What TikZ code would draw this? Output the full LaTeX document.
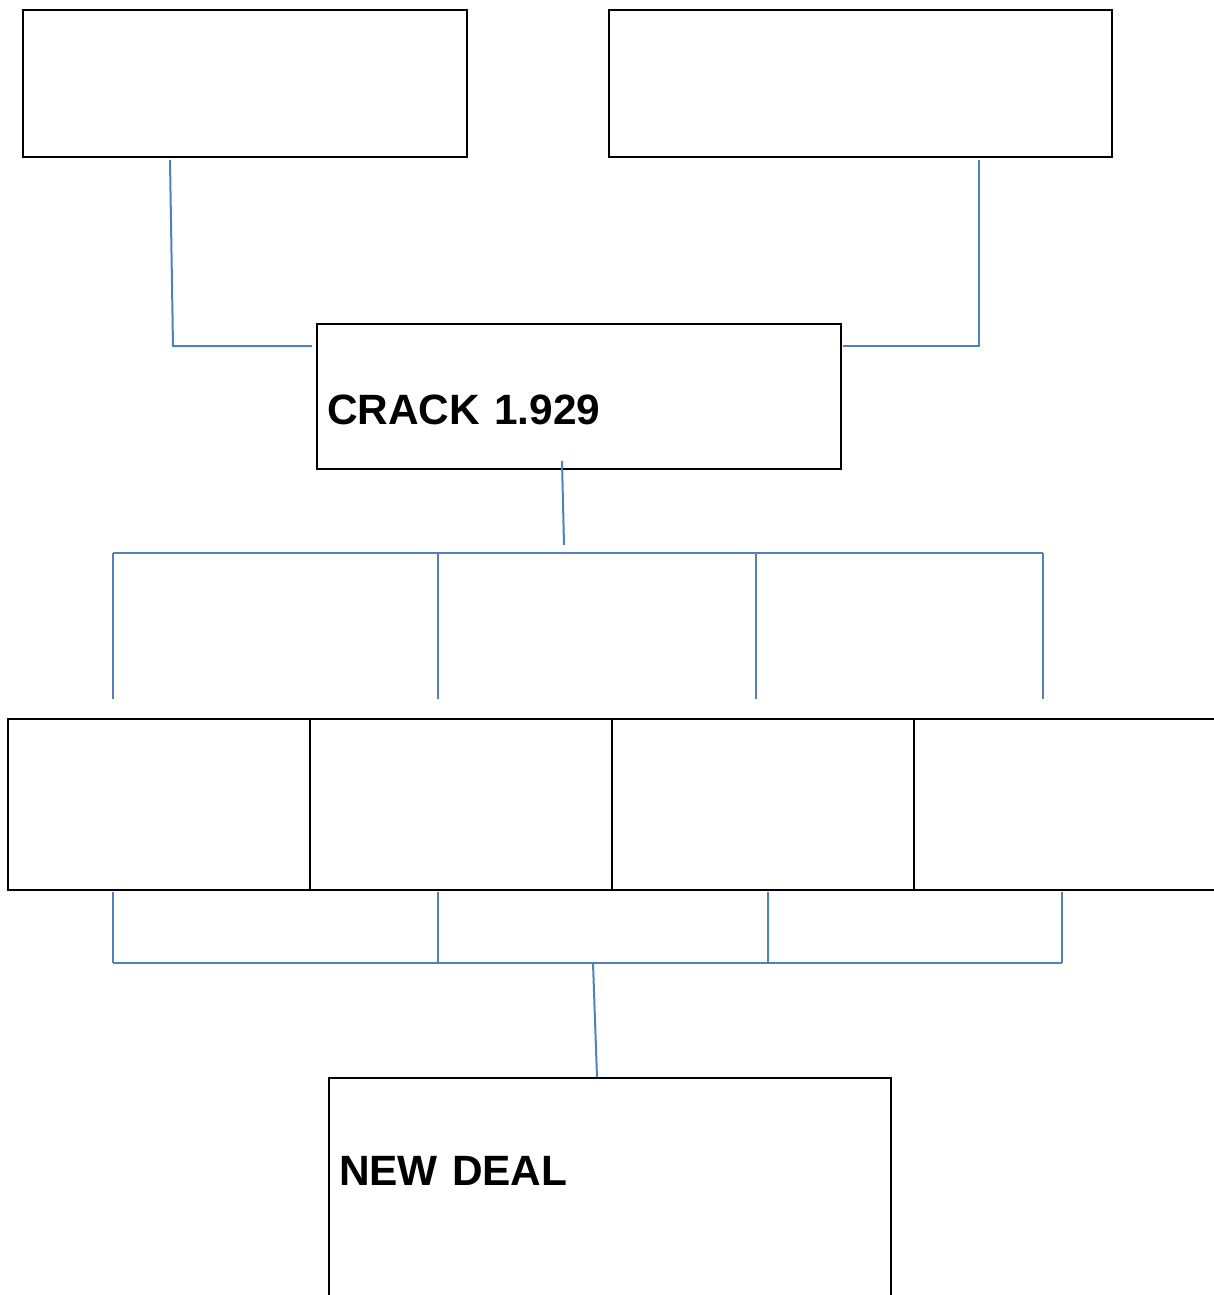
\documentclass[tikz,border=0pt]{standalone}
\usepackage{fontspec}
\setmainfont{Liberation Sans}
\usetikzlibrary{calc,positioning}
\definecolor{linkblue}{RGB}{79,129,189}

\begin{document}
\begin{tikzpicture}[x=0.5pt, y=-0.5pt]

    \tikzstyle{box}   = [rectangle, draw=black, line width=1pt, inner sep=0pt, outer sep=0pt, anchor=north west]
    \tikzstyle{title} = [box, inner xsep=5pt, align=left, font=\bfseries\fontsize{21.2}{25}\selectfont]
    \tikzstyle{link}  = [draw=linkblue, line width=1pt]

    \useasboundingbox (0,0) rectangle (1214,1295);

    \node (top1)  [box, minimum width=222pt, minimum height=73.5pt]            at (23,10)    {};
    \node (top2)  [box, minimum width=251.5pt, minimum height=73.5pt]          at (609,10)   {};

    \node (crack) [title, text width=252pt, text height=50pt, text depth=22.5pt] at (317,324)  {CRACK 1.929};

    \node (row1)  [box, minimum width=151pt, minimum height=85.5pt]            at (8,719)    {};
    \node (row2)  [box, minimum width=151pt, minimum height=85.5pt, right=0pt of row1]       {};
    \node (row3)  [box, minimum width=151pt, minimum height=85.5pt, right=0pt of row2]       {};
    \node (row4)  [box, minimum width=151pt, minimum height=85.5pt, right=0pt of row3]       {};

    \node (deal)  [title, text width=271pt, text height=53.5pt, text depth=63pt] at (329,1078) {NEW DEAL};

    % junction points
    \coordinate (jl) at (173,346);
    \coordinate (jr) at (979,346);
    \coordinate (jc) at (564,545);
    \coordinate (jd) at (593,963);
    \foreach \x [count=\i] in {113,438,756,1043} \coordinate (up\i) at (\x,553);
    \foreach \x [count=\i] in {113,438,768,1062} \coordinate (dn\i) at (\x,963);

    \draw[link] ([xshift=73.5pt,yshift=-1.5pt]top1.south west)  -- (jl) -- ([xshift=-2.5pt,yshift=-11pt]crack.north west);
    \draw[link] ([xshift=-66.5pt,yshift=-1.5pt]top2.south east) -- (jr) -- ([xshift=1pt,yshift=-11pt]crack.north east);

    \draw[link] ([xshift=122.5pt,yshift=4pt]crack.south west) -- (jc);
    \draw[link] (up1) -- (up4);
    \foreach \i in {1,...,4}
        \draw[link] (up\i) -- ($(up\i |- row1.north)+(0,-20)$);

    \foreach \i in {1,...,4}
        \draw[link] ($(dn\i |- row1.south)+(0,2)$) -- (dn\i);
    \draw[link] (dn1) -- (dn4);
    \draw[link] (jd) -- ([xshift=134pt,yshift=0.5pt]deal.north west);

\end{tikzpicture}
\end{document}
